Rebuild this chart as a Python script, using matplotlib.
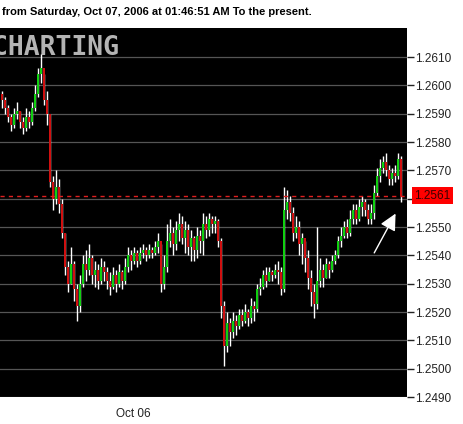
import matplotlib
matplotlib.use("Agg")
import matplotlib.pyplot as plt
import matplotlib.transforms as mtransforms

# ---- data (EUR/USD style quotes) ----
closes = [1.2595, 1.2592, 1.2589, 1.2586, 1.2590, 1.2591, 1.2587, 1.2585, 1.2589, 1.2587,
          1.2592, 1.2597, 1.2604, 1.2606, 1.2595, 1.2590, 1.2566, 1.2560, 1.2564, 1.2558,
          1.2548, 1.2536, 1.2530, 1.2537, 1.2528, 1.2522, 1.2530, 1.2537, 1.2535, 1.2539,
          1.2533, 1.2535, 1.2531, 1.2536, 1.2534, 1.2531, 1.2529, 1.2533, 1.2530, 1.2534,
          1.2531, 1.2536, 1.2540, 1.2538, 1.2541, 1.2538, 1.2541, 1.2542, 1.2540, 1.2542,
          1.2541, 1.2543, 1.2545, 1.2530, 1.2536, 1.2545, 1.2548, 1.2544, 1.2549, 1.2551,
          1.2546, 1.2549, 1.2543, 1.2546, 1.2542, 1.2547, 1.2545, 1.2551, 1.2549, 1.2553,
          1.2551, 1.2552, 1.2545, 1.2522, 1.2508, 1.2516, 1.2513, 1.2517, 1.2515, 1.2519,
          1.2517, 1.2520, 1.2518, 1.2522, 1.2521, 1.2528, 1.2529, 1.2533, 1.2531, 1.2534,
          1.2533, 1.2535, 1.2534, 1.2528, 1.2556, 1.2559, 1.2555, 1.2548, 1.2550, 1.2544,
          1.2546, 1.2539, 1.2532, 1.2527, 1.2523, 1.2531, 1.2535, 1.2532, 1.2537, 1.2535,
          1.2538, 1.2540, 1.2545, 1.2547, 1.2550, 1.2548, 1.2553, 1.2556, 1.2553, 1.2557,
          1.2559, 1.2556, 1.2553, 1.2555, 1.2562, 1.2568, 1.2571, 1.2573, 1.2570, 1.2567,
          1.2569, 1.2568, 1.2574, 1.2561]
highs = [1.2598, 1.2596, 1.2593, 1.2590, 1.2592, 1.2594, 1.2591, 1.2589, 1.2592, 1.2591,
         1.2594, 1.2600, 1.2606, 1.2611, 1.2604, 1.2598, 1.2590, 1.2568, 1.2570, 1.2567,
         1.2560, 1.2548, 1.2538, 1.2543, 1.2538, 1.2530, 1.2533, 1.2540, 1.2542, 1.2544,
         1.2540, 1.2538, 1.2537, 1.2539, 1.2538, 1.2536, 1.2534, 1.2536, 1.2535, 1.2537,
         1.2535, 1.2539, 1.2543, 1.2542, 1.2543, 1.2542, 1.2543, 1.2544, 1.2543, 1.2544,
         1.2543, 1.2545, 1.2548, 1.2544, 1.2540, 1.2551, 1.2553, 1.2550, 1.2552, 1.2555,
         1.2554, 1.2552, 1.2551, 1.2549, 1.2547, 1.2550, 1.2549, 1.2555, 1.2554, 1.2555,
         1.2554, 1.2554, 1.2553, 1.2546, 1.2524, 1.2520, 1.2518, 1.2520, 1.2519, 1.2521,
         1.2521, 1.2523, 1.2521, 1.2525, 1.2524, 1.2530, 1.2532, 1.2535, 1.2536, 1.2536,
         1.2535, 1.2537, 1.2538, 1.2536, 1.2564, 1.2563, 1.2561, 1.2557, 1.2554, 1.2552,
         1.2548, 1.2545, 1.2542, 1.2535, 1.2530, 1.2550, 1.2539, 1.2537, 1.2539, 1.2538,
         1.2540, 1.2542, 1.2547, 1.2550, 1.2552, 1.2553, 1.2556, 1.2558, 1.2558, 1.2560,
         1.2561, 1.2560, 1.2558, 1.2558, 1.2565, 1.2571, 1.2574, 1.2575, 1.2576, 1.2572,
         1.2571, 1.2572, 1.2576, 1.2575]
lows = [1.2592, 1.2590, 1.2587, 1.2584, 1.2585, 1.2588, 1.2585, 1.2583, 1.2584, 1.2585,
        1.2586, 1.2591, 1.2596, 1.2601, 1.2593, 1.2586, 1.2564, 1.2556, 1.2558, 1.2555,
        1.2546, 1.2533, 1.2527, 1.2530, 1.2524, 1.2517, 1.2520, 1.2529, 1.2531, 1.2533,
        1.2530, 1.2529, 1.2528, 1.2530, 1.2531, 1.2528, 1.2526, 1.2528, 1.2527, 1.2529,
        1.2528, 1.2530, 1.2534, 1.2535, 1.2537, 1.2536, 1.2537, 1.2539, 1.2538, 1.2539,
        1.2539, 1.2540, 1.2541, 1.2527, 1.2528, 1.2534, 1.2543, 1.2540, 1.2542, 1.2545,
        1.2544, 1.2541, 1.2540, 1.2538, 1.2538, 1.2539, 1.2541, 1.2540, 1.2546, 1.2547,
        1.2548, 1.2548, 1.2543, 1.2518, 1.2501, 1.2506, 1.2508, 1.2511, 1.2512, 1.2514,
        1.2515, 1.2516, 1.2515, 1.2516, 1.2517, 1.2520, 1.2526, 1.2528, 1.2529, 1.2531,
        1.2531, 1.2532, 1.2530, 1.2526, 1.2527, 1.2553, 1.2552, 1.2545, 1.2546, 1.2540,
        1.2537, 1.2534, 1.2528, 1.2522, 1.2518, 1.2521, 1.2529, 1.2529, 1.2532, 1.2532,
        1.2534, 1.2537, 1.2539, 1.2543, 1.2546, 1.2546, 1.2547, 1.2551, 1.2551, 1.2552,
        1.2554, 1.2554, 1.2551, 1.2551, 1.2553, 1.2561, 1.2566, 1.2569, 1.2568, 1.2565,
        1.2565, 1.2566, 1.2567, 1.2559]
first_open = 1.2597
opens = [first_open] + closes[:-1]

y_ticks = [1.2490, 1.2500, 1.2510, 1.2520, 1.2530, 1.2540, 1.2550,
           1.2560, 1.2570, 1.2580, 1.2590, 1.2600, 1.2610]
hidden_tick = 1.2560          # covered by the current-price tag
date_label = "Oct 06"
date_index = 44
current_price = 1.2561
title_text = "from Saturday, Oct 07, 2006 at 01:46:51 AM To the present."
watermark = "CHARTING"

assert len(closes) == len(highs) == len(lows)
n = len(closes)

W, H = 463, 424
fig = plt.figure(figsize=(W / 100, H / 100), dpi=100, facecolor="white")
ax = fig.add_axes([0, 1 - 397 / H, 407 / W, (397 - 28) / H])
ax.set_facecolor("black")
for s in ax.spines.values():
    s.set_visible(False)

# grid
for yv in y_ticks:
    ax.axhline(yv, color="#555555", lw=0.9, zorder=1)

# candles
xs = list(range(n))
ax.vlines(xs, lows, highs, colors="white", lw=1.0, zorder=2)
body_bottom = [min(o, c) for o, c in zip(opens, closes)]
body_h = [max(abs(c - o), 0.00004) for o, c in zip(opens, closes)]
cols = ["#10d010" if c >= o else "#d01010" for o, c in zip(opens, closes)]
ax.bar(xs, body_h, bottom=body_bottom, width=0.55, color=cols, lw=0, zorder=3)

# current price line
ax.axhline(current_price, color="#e02020", lw=1.0, ls=(0, (3, 3)), zorder=4)

ax.set_xlim(-0.6, 407 / 3 - 0.6)
ax.set_ylim(1.2490, 1.2490 + (397 - 28) / 28.333 * 0.001)

ax.yaxis.tick_right()
ax.set_yticks(y_ticks)
ax.set_yticklabels(["" if abs(v - hidden_tick) < 1e-9 else f"{v:.4f}" for v in y_ticks])
ax.tick_params(axis="y", length=5, width=1, color="#222222", pad=1,
               labelsize=8.5, labelcolor="#222222")
for lab in ax.get_yticklabels():
    lab.set_fontfamily("Liberation Sans")
ax.set_xticks([date_index])
ax.set_xticklabels([date_label], fontfamily="Liberation Sans", fontsize=8.5, color="#222222")
ax.tick_params(axis="x", length=0, pad=8)

# price tag
trans = mtransforms.blended_transform_factory(ax.transAxes, ax.transData)
ax.text(1 + 7 / 407, current_price, f"{current_price:.4f}", transform=trans,
        ha="left", va="center", fontsize=8.5, family="Liberation Sans", color="#3a0000",
        bbox=dict(boxstyle="square,pad=0.2", fc="#ff0000", ec="none"), clip_on=False, zorder=6)

# watermark
ax.text(-8 / 407, 1 - 7 / 369, watermark, transform=ax.transAxes, ha="left", va="top",
        fontsize=19, fontweight="bold", family="DejaVu Sans Mono", color="#b4b4b4",
        zorder=0.5, clip_on=True)

# arrow pointing to the last candle
ax.annotate("", xy=(n - 2.3, current_price - 0.00054), xytext=(n - 10.3, current_price - 0.0021),
            arrowprops=dict(arrowstyle="-|>,head_length=1.0,head_width=0.5", color="white", lw=1.0),
            zorder=6)

# title
fig.text(2 / W, 1 - 12 / H, title_text, ha="left", va="center", fontsize=8,
         fontweight="bold", family="Liberation Sans", color="black")

fig.savefig("out.png", dpi=100, facecolor="white")
